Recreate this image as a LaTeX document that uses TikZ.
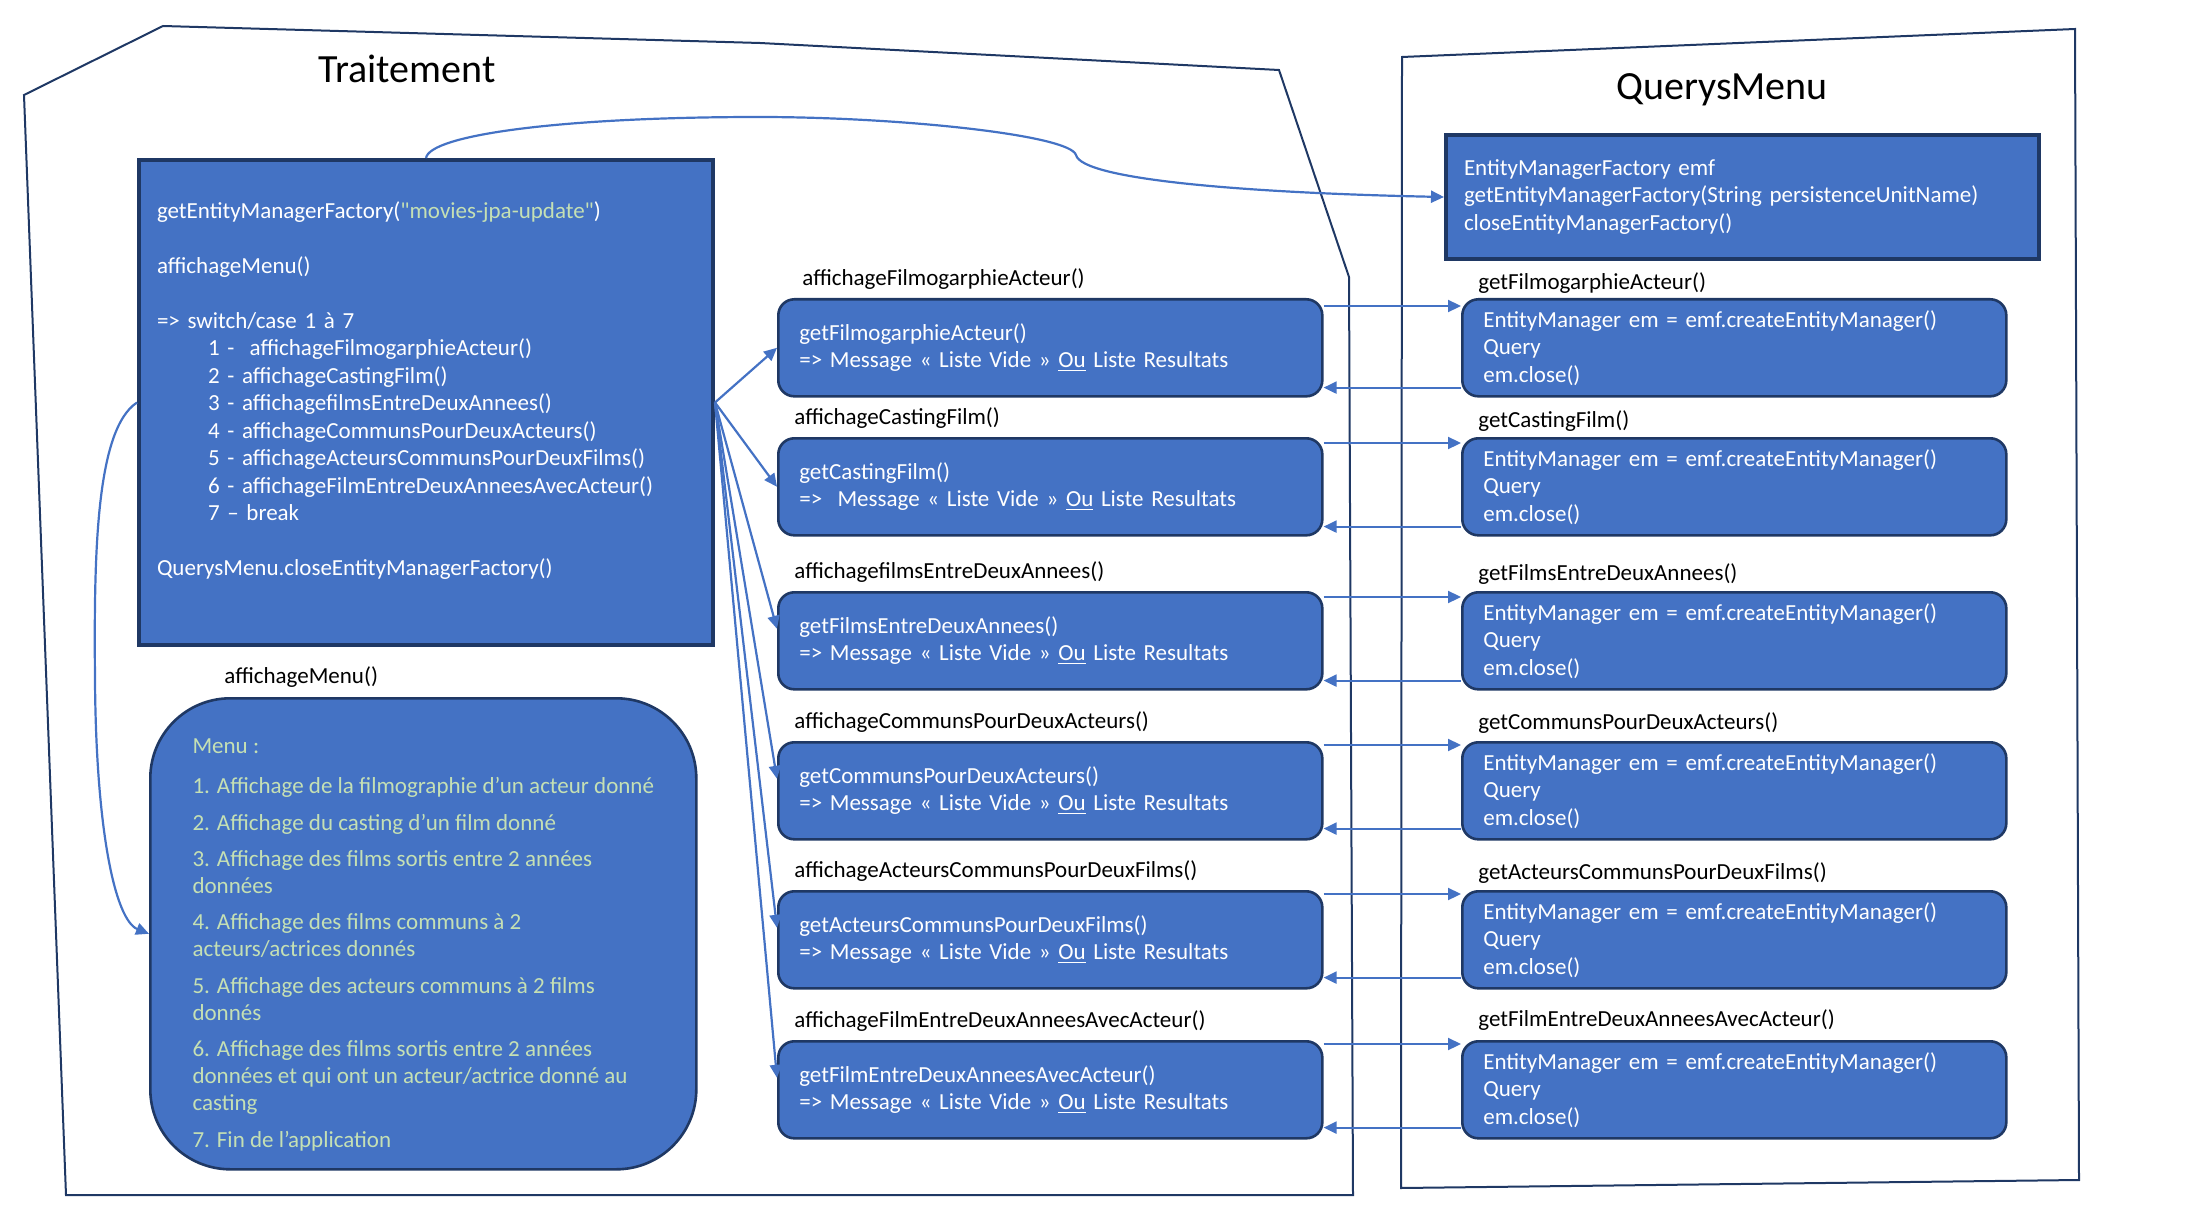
\documentclass[tikz,border=0pt]{standalone}
\usepackage{fontspec}
\setmainfont{Carlito}[Ligatures=TeXOff]
\usetikzlibrary{arrows.meta,positioning}
\definecolor{boxblue}{HTML}{4472C4}
\definecolor{darknavy}{HTML}{1F3864}
\definecolor{palegreen}{HTML}{C5E0B4}
\newcommand{\bodyfont}{\fontsize{11.5}{13.75}\selectfont}
\newcommand{\menufont}{\fontsize{11.5}{13.6}\selectfont}
\newcommand{\titlefont}{\fontsize{20}{24}\selectfont}
\tikzset{
  outline/.style={draw=darknavy, line width=1pt},
  squarebox/.style={draw=darknavy, line width=2pt, fill=boxblue, text=white, anchor=north west, align=left, inner ysep=0pt, font=\bodyfont},
  callbox/.style={draw=darknavy, line width=1.3pt, fill=boxblue, text=white, rounded corners=8pt, anchor=north west, minimum height=48.5pt, inner xsep=10.5pt, text width=251pt, align=left, font=\bodyfont},
  fnlabel/.style={anchor=west, inner sep=0pt, font=\bodyfont},
  flow/.style={draw=boxblue, line width=1.1pt, -{Triangle[length=6.5pt,width=6pt]}},
}
\begin{document}
\begin{tikzpicture}[x=0.5pt, y=-0.5pt]
\useasboundingbox (0,0) rectangle (2190,1230);
\draw[outline] (24,95) -- (163,26) -- (760,43) -- (1279,70) -- (1349,277) -- (1353,1195) -- (66,1195) -- cycle;
\draw[outline] (1402,57) -- (2075,29) -- (2079,1180) -- (1401,1188) -- cycle;
\node[font=\titlefont, anchor=base] (titleT) at (407,83) {Traitement};
\node[font=\titlefont, anchor=base] (titleQ) at (1722,100) {QuerysMenu};
\node[squarebox, minimum width=287pt, minimum height=242.5pt, inner xsep=9pt, text width=269pt] (main) at (137,158) {getEntityManagerFactory(\textcolor{palegreen}{"movies-jpa-update"})\\[13.75pt]
affichageMenu()\\[13.75pt]
=> switch/case 1 à 7\\
\hspace*{25.5pt}1 -\ \ affichageFilmogarphieActeur()\\
\hspace*{25.5pt}2 - affichageCastingFilm()\\
\hspace*{25.5pt}3 - affichagefilmsEntreDeuxAnnees()\\
\hspace*{25.5pt}4 - affichageCommunsPourDeuxActeurs()\\
\hspace*{25.5pt}5 - affichageActeursCommunsPourDeuxFilms()\\
\hspace*{25.5pt}6 - affichageFilmEntreDeuxAnneesAvecActeur()\\
\hspace*{25.5pt}7 – break\\[13.75pt]
QuerysMenu.closeEntityManagerFactory()\\ \mbox{}};
\node[draw=darknavy, line width=1.3pt, fill=boxblue, text=palegreen, rounded corners=40pt, anchor=north west, minimum width=273pt, minimum height=235.5pt, align=left, font=\menufont] (menu) at (149,697) {\rule{0pt}{18.2pt}Menu :\\[6.75pt]
1. Affichage de la filmographie d’un acteur donné\\[4.5pt]
2. Affichage du casting d’un film donné\\[4.5pt]
3. Affichage des films sortis entre 2 années\\
données\\[4.5pt]
4. Affichage des films communs à 2\\
acteurs/actrices donnés\\[4.5pt]
5. Affichage des acteurs communs à 2 films\\
donnés\\[4.5pt]
6. Affichage des films sortis entre 2 années\\
données et qui ont un acteur/actrice donné au\\
casting\\[4.5pt]
7. Fin de l’application};
\node[fnlabel] (lmenu) at ([xshift=37.5pt,yshift=10pt]menu.north west) {affichageMenu()};
\node[squarebox, minimum width=296.5pt, minimum height=62pt, inner xsep=9pt, text width=278.5pt] (qm) at (1444,133) {EntityManagerFactory emf\\
getEntityManagerFactory(String persistenceUnitName)\\
closeEntityManagerFactory()};
\node[callbox] (m1) at (777,298) {getFilmogarphieActeur()\\=> Message « Liste Vide » \underline{Ou} Liste Resultats};
\node[callbox] (m2) at (777,437) {getCastingFilm()\\=>~ Message « Liste Vide » \underline{Ou} Liste Resultats};
\node[callbox] (m3) at (777,591) {getFilmsEntreDeuxAnnees()\\=> Message « Liste Vide » \underline{Ou} Liste Resultats};
\node[callbox] (m4) at (777,741) {getCommunsPourDeuxActeurs()\\=> Message « Liste Vide » \underline{Ou} Liste Resultats};
\node[callbox] (m5) at (777,890) {getActeursCommunsPourDeuxFilms()\\=> Message « Liste Vide » \underline{Ou} Liste Resultats};
\node[callbox] (m6) at (777,1040) {getFilmEntreDeuxAnneesAvecActeur()\\=> Message « Liste Vide » \underline{Ou} Liste Resultats};
\node[fnlabel] (lm1) at ([xshift=12.5pt,yshift=9.5pt]m1.north west) {affichageFilmogarphieActeur()};
\node[fnlabel] (lm2) at ([xshift=8.5pt,yshift=9.5pt]m2.north west) {affichageCastingFilm()};
\node[fnlabel] (lm3) at ([xshift=8.5pt,yshift=9.5pt]m3.north west) {affichagefilmsEntreDeuxAnnees()};
\node[fnlabel] (lm4) at ([xshift=8.5pt,yshift=9.5pt]m4.north west) {affichageCommunsPourDeuxActeurs()};
\node[fnlabel] (lm5) at ([xshift=8.5pt,yshift=9.5pt]m5.north west) {affichageActeursCommunsPourDeuxFilms()};
\node[fnlabel] (lm6) at ([xshift=8.5pt,yshift=9.5pt]m6.north west) {affichageFilmEntreDeuxAnneesAvecActeur()};
\node[callbox] (q1) at (1461,298) {EntityManager em = emf.createEntityManager()\\Query\\em.close()};
\node[callbox] (q2) at (1461,437) {EntityManager em = emf.createEntityManager()\\Query\\em.close()};
\node[callbox] (q3) at (1461,591) {EntityManager em = emf.createEntityManager()\\Query\\em.close()};
\node[callbox] (q4) at (1461,741) {EntityManager em = emf.createEntityManager()\\Query\\em.close()};
\node[callbox] (q5) at (1461,890) {EntityManager em = emf.createEntityManager()\\Query\\em.close()};
\node[callbox] (q6) at (1461,1040) {EntityManager em = emf.createEntityManager()\\Query\\em.close()};
\node[fnlabel] (lq1) at ([xshift=8.5pt,yshift=7.5pt]q1.north west) {getFilmogarphieActeur()};
\node[fnlabel] (lq2) at ([xshift=8.5pt,yshift=8pt]q2.north west) {getCastingFilm()};
\node[fnlabel] (lq3) at ([xshift=8.5pt,yshift=8.5pt]q3.north west) {getFilmsEntreDeuxAnnees()};
\node[fnlabel] (lq4) at ([xshift=8.5pt,yshift=9pt]q4.north west) {getCommunsPourDeuxActeurs()};
\node[fnlabel] (lq5) at ([xshift=8.5pt,yshift=8.5pt]q5.north west) {getActeursCommunsPourDeuxFilms()};
\node[fnlabel] (lq6) at ([xshift=8.5pt,yshift=10pt]q6.north west) {getFilmEntreDeuxAnneesAvecActeur()};
\draw[flow] (main.north) .. controls (430,135) and (560,117) .. (759,117) .. controls (900,117) and (1070,135) .. (1076,155) .. controls (1082,180) and (1250,193) .. (qm.west);
\draw[flow] (main.west) .. controls (95,430) and (94,560) .. (95,680) .. controls (96,830) and (115,920) .. (menu.west);
\draw[flow] (main.east) -- (m1.west);
\draw[flow] (main.east) -- (m2.west);
\draw[flow] (main.east) -- ([yshift=6pt]m3.west);
\draw[flow] (main.east) -- ([yshift=6pt]m4.west);
\draw[flow] (main.east) -- ([yshift=6pt]m5.west);
\draw[flow] (main.east) -- ([yshift=6pt]m6.west);
\draw[flow] ([yshift=-4pt]m1.north east) -- ([yshift=-4pt]q1.north west);
\draw[flow] ([yshift=5pt]q1.south west) -- ([yshift=5pt]m1.south east);
\draw[flow] ([yshift=-3pt]m2.north east) -- ([yshift=-3pt]q2.north west);
\draw[flow] ([yshift=5pt]q2.south west) -- ([yshift=5pt]m2.south east);
\draw[flow] ([yshift=-3pt]m3.north east) -- ([yshift=-3pt]q3.north west);
\draw[flow] ([yshift=5pt]q3.south west) -- ([yshift=5pt]m3.south east);
\draw[flow] ([yshift=-2pt]m4.north east) -- ([yshift=-2pt]q4.north west);
\draw[flow] ([yshift=6pt]q4.south west) -- ([yshift=6pt]m4.south east);
\draw[flow] ([yshift=-2pt]m5.north east) -- ([yshift=-2pt]q5.north west);
\draw[flow] ([yshift=6pt]q5.south west) -- ([yshift=6pt]m5.south east);
\draw[flow] ([yshift=-2pt]m6.north east) -- ([yshift=-2pt]q6.north west);
\draw[flow] ([yshift=6pt]q6.south west) -- ([yshift=6pt]m6.south east);
\end{tikzpicture}
\end{document}
